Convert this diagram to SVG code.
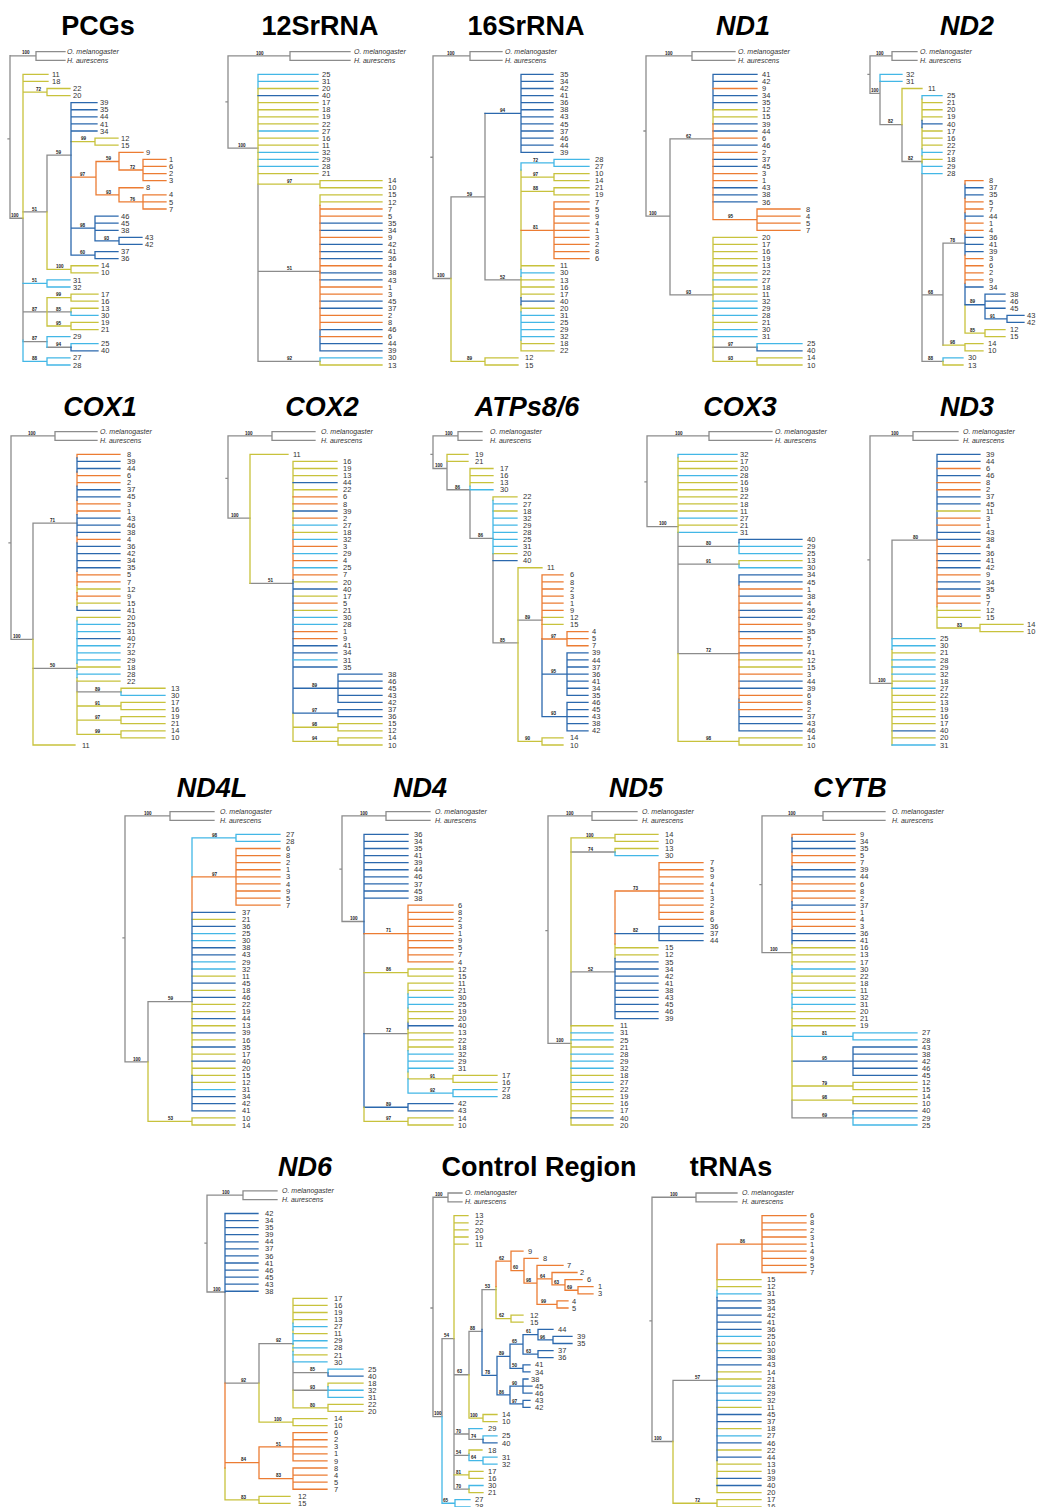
<svg xmlns="http://www.w3.org/2000/svg" width="1038" height="1507" viewBox="0 0 1038 1507">
<style>
path{fill:none;stroke-width:1.3;vector-effect:non-scaling-stroke;stroke-linecap:square}
.g{stroke:#8c8c8c}.y{stroke:#c8c23c}.l{stroke:#43b7e6}.b{stroke:#2b68ad}.o{stroke:#ec7c33}
.lb{font-family:"Liberation Sans",Arial,sans-serif;font-size:7.5px;fill:#333}
.bs{font-family:"Liberation Sans",Arial,sans-serif;font-size:4.6px;font-weight:bold;fill:#222}
.og{font-family:"Liberation Sans",Arial,sans-serif;font-size:7px;font-style:italic;fill:#333}
.t{font-family:"Liberation Sans",Arial,sans-serif;font-size:27px;font-weight:bold;fill:#000;text-anchor:middle}
.i{font-style:italic}
</style>
<rect width="1038" height="1507" fill="#fff"/>
<g id="titles">
<text class="t" x="98" y="35">PCGs</text>
<text class="t" x="320" y="35">12SrRNA</text>
<text class="t" x="526" y="35">16SrRNA</text>
<text class="t i" x="743" y="35">ND1</text>
<text class="t i" x="967" y="35">ND2</text>
<text class="t i" x="100" y="416">COX1</text>
<text class="t i" x="322" y="416">COX2</text>
<text class="t i" x="527" y="416">ATPs8/6</text>
<text class="t i" x="740" y="416">COX3</text>
<text class="t i" x="967" y="416">ND3</text>
<text class="t i" x="212" y="797">ND4L</text>
<text class="t i" x="420" y="797">ND4</text>
<text class="t i" x="636" y="797">ND5</text>
<text class="t i" x="850" y="797">CYTB</text>
<text class="t i" x="305" y="1176">ND6</text>
<text class="t" x="539" y="1176">Control Region</text>
<text class="t" x="731" y="1176">tRNAs</text>
</g>

<g id="tree-pcgs">
<g class="connectors" transform="translate(0,74.3) scale(1,7.09)">
<path class="g" d="M10 -2.62V20.3M8 9.1H10M10 -2.6H36M36 -3.2V-1.95M36 -3.2H65M36 -1.95H65M10 20.3H23M23 20.3V37.5M23 19.4H47M47 11.4V19.4M47 11.4H71M23 33.5H47M23 37.7H47M47 38.5H71M47 33.5H71"/>
<path class="y" d="M23 0V20.3M23 0H48M23 1H48M23 2.5H47M47 2V3M47 2H70M47 3H70M71 9.5H95M95 9V10M95 9H118M95 10H118M47 19.4V27.5M47 27.5H71M71 27V28M71 27H98M71 28H98M47 31.5V35.5M47 31.5H71M71 31V32M71 31H98M71 32H98M71 33V33.5M71 33H98M47 35.5H71M71 35V36M71 35H98M71 36H98"/>
<path class="l" d="M71 33.5V34M71 34H98M23 29.5H47M47 29V30M47 29H70M47 30H70M47 37V38.5M47 37H70M71 38V38.5M71 38H98M23 37.5V40.5M23 40.5H47M47 40V41M47 40H70M47 41H70"/>
<path class="b" d="M71 4V25.5M71 4H97M71 5H97M71 6H97M71 7H97M71 8H97M71 21.7H95M95 20V23.5M95 20H118M95 21H118M95 22H118M95 23.5H119M119 23V24M119 23H142M119 24H142M71 25.5H95M95 25V26M95 25H118M95 26H118M71 38.5V39M71 39H98"/>
<path class="o" d="M71 14.5H96M96 12.3V17M96 12.3H119M119 11V13.5M119 11H143M119 13.5H143M143 12V15M143 12H166M143 13H166M143 14H166M143 15H166M96 17H119M119 16V18M119 16H143M119 18H143M143 17V19M143 17H166M143 18H166M143 19H166"/>
</g>
<text class="og"><tspan x="67" y="54">O. melanogaster</tspan><tspan x="67" y="62.9">H. aurescens</tspan></text>
<text class="lb" y="76.9"><tspan x="52">11</tspan><tspan x="52" dy="7.09">18</tspan><tspan x="73" dy="7.09">22</tspan><tspan x="73" dy="7.09">20</tspan><tspan x="100" dy="7.09">39</tspan><tspan x="100" dy="7.09">35</tspan><tspan x="100" dy="7.09">44</tspan><tspan x="100" dy="7.09">41</tspan><tspan x="100" dy="7.09">34</tspan><tspan x="121" dy="7.09">12</tspan><tspan x="121" dy="7.09">15</tspan><tspan x="146" dy="7.09">9</tspan><tspan x="169" dy="7.09">1</tspan><tspan x="169" dy="7.09">6</tspan><tspan x="169" dy="7.09">2</tspan><tspan x="169" dy="7.09">3</tspan><tspan x="146" dy="7.09">8</tspan><tspan x="169" dy="7.09">4</tspan><tspan x="169" dy="7.09">5</tspan><tspan x="169" dy="7.09">7</tspan><tspan x="121" dy="7.09">46</tspan><tspan x="121" dy="7.09">45</tspan><tspan x="121" dy="7.09">38</tspan><tspan x="145" dy="7.09">43</tspan><tspan x="145" dy="7.09">42</tspan><tspan x="121" dy="7.09">37</tspan><tspan x="121" dy="7.09">36</tspan><tspan x="101" dy="7.09">14</tspan><tspan x="101" dy="7.09">10</tspan><tspan x="73" dy="7.09">31</tspan><tspan x="73" dy="7.09">32</tspan><tspan x="101" dy="7.09">17</tspan><tspan x="101" dy="7.09">16</tspan><tspan x="101" dy="7.09">13</tspan><tspan x="101" dy="7.09">30</tspan><tspan x="101" dy="7.09">19</tspan><tspan x="101" dy="7.09">21</tspan><tspan x="73" dy="7.09">29</tspan><tspan x="101" dy="7.09">25</tspan><tspan x="101" dy="7.09">40</tspan><tspan x="73" dy="7.09">27</tspan><tspan x="73" dy="7.09">28</tspan></text>
<text class="bs"><tspan x="22" y="54.4">100</tspan><tspan x="11" y="216.9">100</tspan><tspan x="36" y="90.7">72</tspan><tspan x="32" y="210.5">51</tspan><tspan x="56" y="153.8">59</tspan><tspan x="81" y="140.4">99</tspan><tspan x="80" y="175.8">97</tspan><tspan x="106" y="160.2">59</tspan><tspan x="130" y="168.7">72</tspan><tspan x="106" y="193.5">93</tspan><tspan x="130" y="200.6">76</tspan><tspan x="80" y="226.9">98</tspan><tspan x="104" y="239.6">93</tspan><tspan x="80" y="253.8">60</tspan><tspan x="56" y="268">100</tspan><tspan x="32" y="282.2">51</tspan><tspan x="56" y="296.3">99</tspan><tspan x="32" y="310.5">87</tspan><tspan x="56" y="310.5">85</tspan><tspan x="56" y="324.7">95</tspan><tspan x="32" y="340.3">87</tspan><tspan x="56" y="346">94</tspan><tspan x="32" y="360.1">88</tspan></text>
</g>

<g id="tree-12srrna">
<g class="connectors" transform="translate(0,74.3) scale(1,7.09)">
<path class="g" d="M228 -2.6V10.4M226 3.9H228M228 -2.6H290M290 -3.2V-1.95M290 -3.2H350M290 -1.95H350M228 10.4H258M258 15.5V40.5M258 27.8H320M258 40.5H320"/>
<path class="l" d="M258 0V2M258 0H318M258 1H318M258 8H318M258 11H318M258 12H318M258 13H318M320 40V40.5M320 40H382"/>
<path class="y" d="M258 2V15.5M258 2H318M258 4H318M258 5H318M258 6H318M258 7H318M258 9H318M258 10H318M258 14H318M258 15.5H320M320 15V16M320 15H382M320 16H382M320 17V18.5M320 17H382M320 18H382M320 40.5V41M320 41H382"/>
<path class="b" d="M258 3H318M320 36V39M320 21H382M320 22H382M320 24H382M320 25H382M320 26H382M320 28H382M320 29H382M320 32H382M320 33H382M320 36H382M320 38H382M320 39H382"/>
<path class="o" d="M320 18.5V36M320 19H382M320 20H382M320 23H382M320 27H382M320 30H382M320 31H382M320 34H382M320 35H382M320 37H382"/>
</g>
<text class="og"><tspan x="354" y="54">O. melanogaster</tspan><tspan x="354" y="62.9">H. aurescens</tspan></text>
<text class="lb" y="76.9"><tspan x="322">25</tspan><tspan x="322" dy="7.09">31</tspan><tspan x="322" dy="7.09">20</tspan><tspan x="322" dy="7.09">40</tspan><tspan x="322" dy="7.09">17</tspan><tspan x="322" dy="7.09">18</tspan><tspan x="322" dy="7.09">19</tspan><tspan x="322" dy="7.09">22</tspan><tspan x="322" dy="7.09">27</tspan><tspan x="322" dy="7.09">16</tspan><tspan x="322" dy="7.09">11</tspan><tspan x="322" dy="7.09">32</tspan><tspan x="322" dy="7.09">29</tspan><tspan x="322" dy="7.09">28</tspan><tspan x="322" dy="7.09">21</tspan><tspan x="388" dy="7.09">14</tspan><tspan x="388" dy="7.09">10</tspan><tspan x="388" dy="7.09">15</tspan><tspan x="388" dy="7.09">12</tspan><tspan x="388" dy="7.09">7</tspan><tspan x="388" dy="7.09">5</tspan><tspan x="388" dy="7.09">35</tspan><tspan x="388" dy="7.09">34</tspan><tspan x="388" dy="7.09">9</tspan><tspan x="388" dy="7.09">42</tspan><tspan x="388" dy="7.09">41</tspan><tspan x="388" dy="7.09">36</tspan><tspan x="388" dy="7.09">4</tspan><tspan x="388" dy="7.09">38</tspan><tspan x="388" dy="7.09">43</tspan><tspan x="388" dy="7.09">1</tspan><tspan x="388" dy="7.09">3</tspan><tspan x="388" dy="7.09">45</tspan><tspan x="388" dy="7.09">37</tspan><tspan x="388" dy="7.09">2</tspan><tspan x="388" dy="7.09">8</tspan><tspan x="388" dy="7.09">46</tspan><tspan x="388" dy="7.09">6</tspan><tspan x="388" dy="7.09">44</tspan><tspan x="388" dy="7.09">39</tspan><tspan x="388" dy="7.09">30</tspan><tspan x="388" dy="7.09">13</tspan></text>
<text class="bs"><tspan x="256" y="54.6">100</tspan><tspan x="238" y="146.7">100</tspan><tspan x="287" y="182.9">97</tspan><tspan x="287" y="270.1">51</tspan><tspan x="287" y="360.1">92</tspan></text>
</g>

<g id="tree-16srrna">
<g class="connectors" transform="translate(0,74.3) scale(1,7.09)">
<path class="g" d="M433 -2.6V28.8M431 11.7H433M433 -2.6H470M470 -3.2V-1.95M470 -3.2H502M470 -1.95H502M433 28.8H451M451 17.3V28.8M451 17.3H485M485 5.5V29M485 29H521"/>
<path class="y" d="M451 28.8V40.5M451 40.5H485M485 40V41M485 40H518M485 41H518M521 13.5V27.5M521 14.5H554M554 14V15M554 14H589M554 15H589M521 16.5H554M554 16V17M554 16H589M554 17H589M521 28.5V31.5M521 32.5V33.5M521 37.5V39M521 27H554M521 29H554M521 30H554M521 31H554M521 33H554M521 38H554M521 39H554"/>
<path class="b" d="M485 5.5H521M521 0V11M521 0H553M521 1H553M521 2H553M521 3H553M521 4H553M521 5H553M521 6H553M521 7H553M521 8H553M521 9H553M521 10H553M521 11H553M521 31.5V32.5M521 32H554"/>
<path class="l" d="M521 12.5V13.5M521 12.5H554M554 12V13M554 12H589M554 13H589M521 27.5V28.5M521 33.5V37.5M521 28H554M521 34H554M521 35H554M521 36H554M521 37H554"/>
<path class="o" d="M521 22H554M554 18V26M554 18H589M554 19H589M554 20H589M554 21H589M554 22H589M554 23H589M554 24H589M554 25H589M554 26H589"/>
</g>
<text class="og"><tspan x="505" y="54">O. melanogaster</tspan><tspan x="505" y="62.9">H. aurescens</tspan></text>
<text class="lb" y="76.9"><tspan x="560">35</tspan><tspan x="560" dy="7.09">34</tspan><tspan x="560" dy="7.09">42</tspan><tspan x="560" dy="7.09">41</tspan><tspan x="560" dy="7.09">36</tspan><tspan x="560" dy="7.09">38</tspan><tspan x="560" dy="7.09">43</tspan><tspan x="560" dy="7.09">45</tspan><tspan x="560" dy="7.09">37</tspan><tspan x="560" dy="7.09">46</tspan><tspan x="560" dy="7.09">44</tspan><tspan x="560" dy="7.09">39</tspan><tspan x="595" dy="7.09">28</tspan><tspan x="595" dy="7.09">27</tspan><tspan x="595" dy="7.09">10</tspan><tspan x="595" dy="7.09">14</tspan><tspan x="595" dy="7.09">21</tspan><tspan x="595" dy="7.09">19</tspan><tspan x="595" dy="7.09">7</tspan><tspan x="595" dy="7.09">5</tspan><tspan x="595" dy="7.09">9</tspan><tspan x="595" dy="7.09">4</tspan><tspan x="595" dy="7.09">1</tspan><tspan x="595" dy="7.09">3</tspan><tspan x="595" dy="7.09">2</tspan><tspan x="595" dy="7.09">8</tspan><tspan x="595" dy="7.09">6</tspan><tspan x="560" dy="7.09">11</tspan><tspan x="560" dy="7.09">30</tspan><tspan x="560" dy="7.09">13</tspan><tspan x="560" dy="7.09">16</tspan><tspan x="560" dy="7.09">17</tspan><tspan x="560" dy="7.09">40</tspan><tspan x="560" dy="7.09">20</tspan><tspan x="560" dy="7.09">31</tspan><tspan x="560" dy="7.09">25</tspan><tspan x="560" dy="7.09">29</tspan><tspan x="560" dy="7.09">32</tspan><tspan x="560" dy="7.09">18</tspan><tspan x="560" dy="7.09">22</tspan><tspan x="525" dy="7.09">12</tspan><tspan x="525" dy="7.09">15</tspan></text>
<text class="bs"><tspan x="447" y="54.6">100</tspan><tspan x="437" y="277.2">100</tspan><tspan x="467" y="195.7">59</tspan><tspan x="500" y="112">94</tspan><tspan x="500" y="278.6">52</tspan><tspan x="533" y="161.6">72</tspan><tspan x="533" y="175.8">97</tspan><tspan x="533" y="190">88</tspan><tspan x="533" y="229">81</tspan><tspan x="467" y="360.1">89</tspan></text>
</g>

<g id="tree-nd1">
<g class="connectors" transform="translate(0,74.3) scale(1,7.09)">
<path class="g" d="M646 -2.6V20M644 8H646M646 -2.6H692M692 -3.2V-1.95M692 -3.2H735M692 -1.95H735M646 20H670M670 9.1V31.1M670 9.1H713M670 31.1H713M713 38.5H757"/>
<path class="b" d="M713 0V5M713 0H757M713 1H757M713 3H757M713 4H757M713 7H757M713 8H757M713 10H757M713 12H757M713 13H757M713 16H757M713 17H757M713 18H757M757 38.5V39M757 39H802"/>
<path class="y" d="M713 5V7M713 5H757M713 6H757M713 23V40.5M713 23H757M713 24H757M713 25H757M713 26H757M713 27H757M713 28H757M713 30H757M713 31H757M713 35H757M713 40.5H757M757 40V41M757 40H802M757 41H802"/>
<path class="o" d="M713 7V20.5M713 2H757M713 9H757M713 11H757M713 14H757M713 15H757M713 20.5H757M757 19V22M757 19H800M757 20H800M757 21H800M757 22H800"/>
<path class="l" d="M713 29H757M713 32H757M713 33H757M713 34H757M713 36H757M713 37H757M757 38V38.5M757 38H802"/>
</g>
<text class="og"><tspan x="738" y="54">O. melanogaster</tspan><tspan x="738" y="62.9">H. aurescens</tspan></text>
<text class="lb" y="76.9"><tspan x="762">41</tspan><tspan x="762" dy="7.09">42</tspan><tspan x="762" dy="7.09">9</tspan><tspan x="762" dy="7.09">34</tspan><tspan x="762" dy="7.09">35</tspan><tspan x="762" dy="7.09">12</tspan><tspan x="762" dy="7.09">15</tspan><tspan x="762" dy="7.09">39</tspan><tspan x="762" dy="7.09">44</tspan><tspan x="762" dy="7.09">6</tspan><tspan x="762" dy="7.09">46</tspan><tspan x="762" dy="7.09">2</tspan><tspan x="762" dy="7.09">37</tspan><tspan x="762" dy="7.09">45</tspan><tspan x="762" dy="7.09">3</tspan><tspan x="762" dy="7.09">1</tspan><tspan x="762" dy="7.09">43</tspan><tspan x="762" dy="7.09">38</tspan><tspan x="762" dy="7.09">36</tspan><tspan x="806" dy="7.09">8</tspan><tspan x="806" dy="7.09">4</tspan><tspan x="806" dy="7.09">5</tspan><tspan x="806" dy="7.09">7</tspan><tspan x="762" dy="7.09">20</tspan><tspan x="762" dy="7.09">17</tspan><tspan x="762" dy="7.09">16</tspan><tspan x="762" dy="7.09">19</tspan><tspan x="762" dy="7.09">13</tspan><tspan x="762" dy="7.09">22</tspan><tspan x="762" dy="7.09">27</tspan><tspan x="762" dy="7.09">18</tspan><tspan x="762" dy="7.09">11</tspan><tspan x="762" dy="7.09">32</tspan><tspan x="762" dy="7.09">29</tspan><tspan x="762" dy="7.09">28</tspan><tspan x="762" dy="7.09">21</tspan><tspan x="762" dy="7.09">30</tspan><tspan x="762" dy="7.09">31</tspan><tspan x="807" dy="7.09">25</tspan><tspan x="807" dy="7.09">40</tspan><tspan x="807" dy="7.09">14</tspan><tspan x="807" dy="7.09">10</tspan></text>
<text class="bs"><tspan x="665" y="54.6">100</tspan><tspan x="649" y="214.8">100</tspan><tspan x="686" y="137.5">62</tspan><tspan x="686" y="293.5">93</tspan><tspan x="728" y="218.3">95</tspan><tspan x="728" y="346">97</tspan><tspan x="728" y="360.1">93</tspan></text>
</g>

<g id="tree-nd2">
<g class="connectors" transform="translate(0,74.3) scale(1,7.09)">
<path class="g" d="M870 -2.6V2.7M868 0H870M870 -2.6H892M892 -3.2V-1.95M892 -3.2H917M892 -1.95H917M870 2.7H880M880 1V7.1M880 7.1H902M902 7.1V12.3M902 12.3H922M922 14V40.5M922 31.1H943M943 23.8V38.2M943 23.8H965M922 40.5H943"/>
<path class="l" d="M880 0V1M880 0H902M880 1H902M922 3V3.5M922 10.5V11.5M922 12.5V14M922 3H942M922 11H942M922 13H942M922 14H942M943 40V40.5M943 40H963"/>
<path class="y" d="M902 2V7.1M902 2H922M922 3.5V6.5M922 7.5V10.5M922 11.5V12.5M922 4H942M922 5H942M922 6H942M922 8H942M922 9H942M922 10H942M922 12H942M965 32.5V36.5M965 36.5H985M985 36V37M985 36H1005M985 37H1005M943 38.2H965M965 38V39M965 38H983M965 39H983M943 40.5V41M943 41H963"/>
<path class="b" d="M922 6.5V7.5M922 7H942M965 15.5V17.5M965 19.5V20.5M965 22.5V25.5M965 29.5V32.5M965 16H983M965 17H983M965 20H983M965 23H983M965 24H983M965 25H983M965 30H983M965 32.5H985M985 31V34.5M985 31H1005M985 32H1005M985 33H1005M985 34.5H1007M1007 34V35M1007 34H1024M1007 35H1024"/>
<path class="o" d="M965 15V15.5M965 17.5V19.5M965 20.5V22.5M965 25.5V29.5M965 15H983M965 18H983M965 19H983M965 21H983M965 22H983M965 26H983M965 27H983M965 28H983M965 29H983"/>
</g>
<text class="og"><tspan x="920" y="54">O. melanogaster</tspan><tspan x="920" y="62.9">H. aurescens</tspan></text>
<text class="lb" y="76.9"><tspan x="906">32</tspan><tspan x="906" dy="7.09">31</tspan><tspan x="928" dy="7.09">11</tspan><tspan x="947" dy="7.09">25</tspan><tspan x="947" dy="7.09">21</tspan><tspan x="947" dy="7.09">20</tspan><tspan x="947" dy="7.09">19</tspan><tspan x="947" dy="7.09">40</tspan><tspan x="947" dy="7.09">17</tspan><tspan x="947" dy="7.09">16</tspan><tspan x="947" dy="7.09">22</tspan><tspan x="947" dy="7.09">27</tspan><tspan x="947" dy="7.09">18</tspan><tspan x="947" dy="7.09">29</tspan><tspan x="947" dy="7.09">28</tspan><tspan x="989" dy="7.09">8</tspan><tspan x="989" dy="7.09">37</tspan><tspan x="989" dy="7.09">35</tspan><tspan x="989" dy="7.09">5</tspan><tspan x="989" dy="7.09">7</tspan><tspan x="989" dy="7.09">44</tspan><tspan x="989" dy="7.09">1</tspan><tspan x="989" dy="7.09">4</tspan><tspan x="989" dy="7.09">36</tspan><tspan x="989" dy="7.09">41</tspan><tspan x="989" dy="7.09">39</tspan><tspan x="989" dy="7.09">3</tspan><tspan x="989" dy="7.09">6</tspan><tspan x="989" dy="7.09">2</tspan><tspan x="989" dy="7.09">9</tspan><tspan x="989" dy="7.09">34</tspan><tspan x="1010" dy="7.09">38</tspan><tspan x="1010" dy="7.09">46</tspan><tspan x="1010" dy="7.09">45</tspan><tspan x="1027" dy="7.09">43</tspan><tspan x="1027" dy="7.09">42</tspan><tspan x="1010" dy="7.09">12</tspan><tspan x="1010" dy="7.09">15</tspan><tspan x="988" dy="7.09">14</tspan><tspan x="988" dy="7.09">10</tspan><tspan x="968" dy="7.09">30</tspan><tspan x="968" dy="7.09">13</tspan></text>
<text class="bs"><tspan x="876" y="54.6">100</tspan><tspan x="871" y="92.1">100</tspan><tspan x="888" y="123.3">82</tspan><tspan x="908" y="160.2">82</tspan><tspan x="928" y="293.5">68</tspan><tspan x="950" y="241.7">78</tspan><tspan x="970" y="303.4">89</tspan><tspan x="990" y="317.6">91</tspan><tspan x="970" y="331.8">85</tspan><tspan x="950" y="343.8">98</tspan><tspan x="928" y="360.1">88</tspan></text>
</g>

<g id="tree-cox1">
<g class="connectors" transform="translate(0,454.3) scale(1,7.09)">
<path class="g" d="M11 -2.6V26.1M9 12.5H11M11 -2.6H55M55 -3.2V-1.95M55 -3.2H97M55 -1.95H97M11 26.1H33M33 9.7V26.1M33 9.7H77M33 30.2H77M77 32V33.5M77 33.5H121"/>
<path class="y" d="M33 26.1V41M33 41H75M77 18.5V19.5M77 20.5V21.5M77 19H120M77 21H120M77 23V23.5M77 29.5V30.5M77 31.5V32M77 33.5V39.5M77 23H120M77 30H120M77 32H120M121 33V33.5M121 33H165M77 35.5H121M121 35V36M121 35H165M121 36H165M77 37.5H121M121 37V38M121 37H165M121 38H165M77 39.5H121M121 39V40M121 39H165M121 40H165"/>
<path class="o" d="M77 0V0.5M77 2.5V4.5M77 6.5V8.5M77 11.5V12.5M77 16.5V18.5M77 19.5V20.5M77 0H120M77 3H120M77 4H120M77 7H120M77 8H120M77 12H120M77 17H120M77 18H120M77 20H120"/>
<path class="b" d="M77 0.5V2.5M77 4.5V6.5M77 8.5V11.5M77 12.5V16.5M77 21.5V22M77 1H120M77 2H120M77 5H120M77 6H120M77 9H120M77 10H120M77 11H120M77 13H120M77 14H120M77 15H120M77 16H120M77 22H120M77 26H120"/>
<path class="l" d="M77 23.5V29.5M77 30.5V31.5M77 24H120M77 25H120M77 27H120M77 28H120M77 29H120M77 31H120M121 33.5V34M121 34H165"/>
</g>
<text class="og"><tspan x="100" y="434">O. melanogaster</tspan><tspan x="100" y="442.9">H. aurescens</tspan></text>
<text class="lb" y="456.9"><tspan x="127">8</tspan><tspan x="127" dy="7.09">39</tspan><tspan x="127" dy="7.09">44</tspan><tspan x="127" dy="7.09">6</tspan><tspan x="127" dy="7.09">2</tspan><tspan x="127" dy="7.09">37</tspan><tspan x="127" dy="7.09">45</tspan><tspan x="127" dy="7.09">3</tspan><tspan x="127" dy="7.09">1</tspan><tspan x="127" dy="7.09">43</tspan><tspan x="127" dy="7.09">46</tspan><tspan x="127" dy="7.09">38</tspan><tspan x="127" dy="7.09">4</tspan><tspan x="127" dy="7.09">36</tspan><tspan x="127" dy="7.09">42</tspan><tspan x="127" dy="7.09">34</tspan><tspan x="127" dy="7.09">35</tspan><tspan x="127" dy="7.09">5</tspan><tspan x="127" dy="7.09">7</tspan><tspan x="127" dy="7.09">12</tspan><tspan x="127" dy="7.09">9</tspan><tspan x="127" dy="7.09">15</tspan><tspan x="127" dy="7.09">41</tspan><tspan x="127" dy="7.09">20</tspan><tspan x="127" dy="7.09">25</tspan><tspan x="127" dy="7.09">31</tspan><tspan x="127" dy="7.09">40</tspan><tspan x="127" dy="7.09">27</tspan><tspan x="127" dy="7.09">32</tspan><tspan x="127" dy="7.09">29</tspan><tspan x="127" dy="7.09">18</tspan><tspan x="127" dy="7.09">28</tspan><tspan x="127" dy="7.09">22</tspan><tspan x="171" dy="7.09">13</tspan><tspan x="171" dy="7.09">30</tspan><tspan x="171" dy="7.09">17</tspan><tspan x="171" dy="7.09">16</tspan><tspan x="171" dy="7.09">19</tspan><tspan x="171" dy="7.09">21</tspan><tspan x="171" dy="7.09">14</tspan><tspan x="171" dy="7.09">10</tspan><tspan x="82" dy="7.09">11</tspan></text>
<text class="bs"><tspan x="28" y="434.6">100</tspan><tspan x="13" y="638">100</tspan><tspan x="50" y="521.8">71</tspan><tspan x="50" y="667.1">50</tspan><tspan x="95" y="690.5">89</tspan><tspan x="95" y="704.7">91</tspan><tspan x="95" y="718.9">97</tspan><tspan x="95" y="733.1">99</tspan></text>
</g>

<g id="tree-cox2">
<g class="connectors" transform="translate(0,454.3) scale(1,7.09)">
<path class="g" d="M228 -2.6V9M226 3.4H228M228 -2.6H272M272 -3.2V-1.95M272 -3.2H315M272 -1.95H315M228 9H250M250 18.2H293"/>
<path class="y" d="M250 0V18.2M250 0H288M293 1V10.7M293 36.5V40.5M293 1H337M293 2H337M293 3H337M293 5H337M293 11H337M293 18H337M293 20H337M293 22H337M293 38.5H338M338 38V39M338 38H382M338 39H382M293 40.5H338M338 40V41M338 40H382M338 41H382"/>
<path class="o" d="M293 10.7V17.7M293 6H337M293 7H337M293 9H337M293 13H337M293 15H337M293 17H337M293 21H337M293 25H337M293 26H337"/>
<path class="b" d="M293 17.7V36.5M293 4H337M293 8H337M293 19H337M293 27H337M293 28H337M293 30H337M293 33H338M338 31V35M338 31H382M338 32H382M338 33H382M338 34H382M338 35H382M293 36.5H338M338 36V37M338 36H382M338 37H382"/>
<path class="l" d="M293 10H337M293 12H337M293 14H337M293 16H337M293 23H337M293 24H337M293 29H337"/>
</g>
<text class="og"><tspan x="321" y="434">O. melanogaster</tspan><tspan x="321" y="442.9">H. aurescens</tspan></text>
<text class="lb" y="456.9"><tspan x="293">11</tspan><tspan x="343" dy="7.09">16</tspan><tspan x="343" dy="7.09">19</tspan><tspan x="343" dy="7.09">13</tspan><tspan x="343" dy="7.09">44</tspan><tspan x="343" dy="7.09">22</tspan><tspan x="343" dy="7.09">6</tspan><tspan x="343" dy="7.09">8</tspan><tspan x="343" dy="7.09">39</tspan><tspan x="343" dy="7.09">2</tspan><tspan x="343" dy="7.09">27</tspan><tspan x="343" dy="7.09">18</tspan><tspan x="343" dy="7.09">32</tspan><tspan x="343" dy="7.09">3</tspan><tspan x="343" dy="7.09">29</tspan><tspan x="343" dy="7.09">4</tspan><tspan x="343" dy="7.09">25</tspan><tspan x="343" dy="7.09">7</tspan><tspan x="343" dy="7.09">20</tspan><tspan x="343" dy="7.09">40</tspan><tspan x="343" dy="7.09">17</tspan><tspan x="343" dy="7.09">5</tspan><tspan x="343" dy="7.09">21</tspan><tspan x="343" dy="7.09">30</tspan><tspan x="343" dy="7.09">28</tspan><tspan x="343" dy="7.09">1</tspan><tspan x="343" dy="7.09">9</tspan><tspan x="343" dy="7.09">41</tspan><tspan x="343" dy="7.09">34</tspan><tspan x="343" dy="7.09">31</tspan><tspan x="343" dy="7.09">35</tspan><tspan x="388" dy="7.09">38</tspan><tspan x="388" dy="7.09">46</tspan><tspan x="388" dy="7.09">45</tspan><tspan x="388" dy="7.09">43</tspan><tspan x="388" dy="7.09">42</tspan><tspan x="388" dy="7.09">37</tspan><tspan x="388" dy="7.09">36</tspan><tspan x="388" dy="7.09">15</tspan><tspan x="388" dy="7.09">12</tspan><tspan x="388" dy="7.09">14</tspan><tspan x="388" dy="7.09">10</tspan></text>
<text class="bs"><tspan x="245" y="434.6">100</tspan><tspan x="231" y="516.8">100</tspan><tspan x="268" y="582">51</tspan><tspan x="312" y="687">89</tspan><tspan x="312" y="711.8">97</tspan><tspan x="312" y="726">98</tspan><tspan x="312" y="740.1">94</tspan></text>
</g>

<g id="tree-atp86">
<g class="connectors" transform="translate(0,454.3) scale(1,7.09)">
<path class="g" d="M433 -2.6V2M431 0H433M433 -2.6H458M458 -3.2V-1.95M458 -3.2H482M458 -1.95H482M433 2H447M447 1V5M447 5H470M470 5V11.85M470 11.85H493M493 14V26.6M493 26.6H518M518 23.4H542"/>
<path class="y" d="M447 0V1M447 0H468M447 1H468M470 2V4.5M470 2H493M470 3H493M470 4H493M493 6V6.5M493 6H517M493 8H517M493 14H517M518 16V40.5M518 16H542M518 40.5H542M542 40V41M542 40H563M542 41H563M542 23H563M542 24H563"/>
<path class="l" d="M470 4.5V5M470 5H493M493 6.5V14M493 7H517M493 9H517M493 10H517M493 11H517M493 12H517M493 13H517"/>
<path class="b" d="M493 15H517M542 26V37M542 31H567M567 28V34M567 28H588M567 29H588M567 30H588M567 31H588M567 32H588M567 33H588M567 34H588M542 37H567M567 35V39M567 35H588M567 36H588M567 37H588M567 38H588M567 39H588"/>
<path class="o" d="M542 17V26M542 17H563M542 18H563M542 19H563M542 20H563M542 21H563M542 22H563M542 26.05H567M567 25V27M567 25H588M567 26H588M567 27H588"/>
</g>
<text class="og"><tspan x="490" y="434">O. melanogaster</tspan><tspan x="490" y="442.9">H. aurescens</tspan></text>
<text class="lb" y="456.9"><tspan x="475">19</tspan><tspan x="475" dy="7.09">21</tspan><tspan x="500" dy="7.09">17</tspan><tspan x="500" dy="7.09">16</tspan><tspan x="500" dy="7.09">13</tspan><tspan x="500" dy="7.09">30</tspan><tspan x="523" dy="7.09">22</tspan><tspan x="523" dy="7.09">27</tspan><tspan x="523" dy="7.09">18</tspan><tspan x="523" dy="7.09">32</tspan><tspan x="523" dy="7.09">29</tspan><tspan x="523" dy="7.09">28</tspan><tspan x="523" dy="7.09">25</tspan><tspan x="523" dy="7.09">31</tspan><tspan x="523" dy="7.09">20</tspan><tspan x="523" dy="7.09">40</tspan><tspan x="547" dy="7.09">11</tspan><tspan x="570" dy="7.09">6</tspan><tspan x="570" dy="7.09">8</tspan><tspan x="570" dy="7.09">2</tspan><tspan x="570" dy="7.09">3</tspan><tspan x="570" dy="7.09">1</tspan><tspan x="570" dy="7.09">9</tspan><tspan x="570" dy="7.09">12</tspan><tspan x="570" dy="7.09">15</tspan><tspan x="592" dy="7.09">4</tspan><tspan x="592" dy="7.09">5</tspan><tspan x="592" dy="7.09">7</tspan><tspan x="592" dy="7.09">39</tspan><tspan x="592" dy="7.09">44</tspan><tspan x="592" dy="7.09">37</tspan><tspan x="592" dy="7.09">36</tspan><tspan x="592" dy="7.09">41</tspan><tspan x="592" dy="7.09">34</tspan><tspan x="592" dy="7.09">35</tspan><tspan x="592" dy="7.09">46</tspan><tspan x="592" dy="7.09">45</tspan><tspan x="592" dy="7.09">43</tspan><tspan x="592" dy="7.09">38</tspan><tspan x="592" dy="7.09">42</tspan><tspan x="570" dy="7.09">14</tspan><tspan x="570" dy="7.09">10</tspan></text>
<text class="bs"><tspan x="445" y="434.6">100</tspan><tspan x="435" y="467.2">100</tspan><tspan x="455" y="488.5">86</tspan><tspan x="478" y="537">86</tspan><tspan x="500" y="641.6">85</tspan><tspan x="525" y="618.9">89</tspan><tspan x="551" y="637.7">97</tspan><tspan x="551" y="672.8">95</tspan><tspan x="551" y="715.3">93</tspan><tspan x="525" y="740.1">90</tspan></text>
</g>

<g id="tree-cox3">
<g class="connectors" transform="translate(0,454.3) scale(1,7.09)">
<path class="g" d="M647 -2.6V10.2M645 3.9H647M647 -2.6H709M709 -3.2V-1.95M709 -3.2H772M709 -1.95H772M647 10.2H678M678 11V28.1M678 13H739M678 15.5H739M678 28.1H739"/>
<path class="l" d="M678 0V0.5M678 0H737M678 3H737M678 9H737M678 11H737M739 12.5V14M739 13H802M739 14H802M739 15.5V16M739 16H802"/>
<path class="y" d="M678 0.5V11M678 1H737M678 2H737M678 4H737M678 5H737M678 6H737M678 7H737M678 8H737M678 10H737M678 28.1V40.5M678 40.5H739M739 40V41M739 40H802M739 41H802M739 15V15.5M739 15H802M739 29H802M739 30H802"/>
<path class="b" d="M739 12V12.5M739 12H802M739 17V18.5M739 34.5V39M739 17H802M739 18H802M739 20H802M739 22H802M739 23H802M739 25H802M739 28H802M739 32H802M739 33H802M739 37H802M739 38H802M739 39H802"/>
<path class="o" d="M739 18.5V34.5M739 19H802M739 21H802M739 24H802M739 26H802M739 27H802M739 31H802M739 34H802M739 35H802M739 36H802"/>
</g>
<text class="og"><tspan x="775" y="434">O. melanogaster</tspan><tspan x="775" y="442.9">H. aurescens</tspan></text>
<text class="lb" y="456.9"><tspan x="740">32</tspan><tspan x="740" dy="7.09">17</tspan><tspan x="740" dy="7.09">20</tspan><tspan x="740" dy="7.09">28</tspan><tspan x="740" dy="7.09">16</tspan><tspan x="740" dy="7.09">19</tspan><tspan x="740" dy="7.09">22</tspan><tspan x="740" dy="7.09">18</tspan><tspan x="740" dy="7.09">11</tspan><tspan x="740" dy="7.09">27</tspan><tspan x="740" dy="7.09">21</tspan><tspan x="740" dy="7.09">31</tspan><tspan x="807" dy="7.09">40</tspan><tspan x="807" dy="7.09">29</tspan><tspan x="807" dy="7.09">25</tspan><tspan x="807" dy="7.09">13</tspan><tspan x="807" dy="7.09">30</tspan><tspan x="807" dy="7.09">34</tspan><tspan x="807" dy="7.09">45</tspan><tspan x="807" dy="7.09">1</tspan><tspan x="807" dy="7.09">38</tspan><tspan x="807" dy="7.09">4</tspan><tspan x="807" dy="7.09">36</tspan><tspan x="807" dy="7.09">42</tspan><tspan x="807" dy="7.09">9</tspan><tspan x="807" dy="7.09">35</tspan><tspan x="807" dy="7.09">5</tspan><tspan x="807" dy="7.09">7</tspan><tspan x="807" dy="7.09">41</tspan><tspan x="807" dy="7.09">12</tspan><tspan x="807" dy="7.09">15</tspan><tspan x="807" dy="7.09">3</tspan><tspan x="807" dy="7.09">44</tspan><tspan x="807" dy="7.09">39</tspan><tspan x="807" dy="7.09">6</tspan><tspan x="807" dy="7.09">8</tspan><tspan x="807" dy="7.09">2</tspan><tspan x="807" dy="7.09">37</tspan><tspan x="807" dy="7.09">43</tspan><tspan x="807" dy="7.09">46</tspan><tspan x="807" dy="7.09">14</tspan><tspan x="807" dy="7.09">10</tspan></text>
<text class="bs"><tspan x="675" y="434.6">100</tspan><tspan x="659" y="525.3">100</tspan><tspan x="706" y="545.2">80</tspan><tspan x="706" y="562.9">91</tspan><tspan x="706" y="652.2">72</tspan><tspan x="706" y="740.1">98</tspan></text>
</g>

<g id="tree-nd3">
<g class="connectors" transform="translate(0,454.3) scale(1,7.09)">
<path class="g" d="M870 -2.6V32.3M868 14.9H870M870 -2.6H913M913 -3.2V-1.95M913 -3.2H958M913 -1.95H958M870 32.3H892M892 12.1V26M892 12.1H937"/>
<path class="b" d="M937 0V12M937 0H980M937 1H980M937 3H980M937 6H980M937 7H980M937 11H980M937 12H980M937 14H980M937 15H980M937 16H980M937 18H980M937 19H980M892 39H935"/>
<path class="o" d="M937 12V21.5M937 2H980M937 4H980M937 5H980M937 9H980M937 10H980M937 13H980M937 17H980M937 20H980M937 21H980"/>
<path class="y" d="M937 21.5V24.5M937 8H980M937 22H980M937 23H980M937 24.5H980M980 24V25M980 24H1023M980 25H1023M892 27.5V41M892 28H935M892 32H935M892 34H935M892 35H935M892 36H935M892 37H935M892 38H935M892 40H935"/>
<path class="l" d="M892 26V27.5M892 26H935M892 27H935M892 29H935M892 30H935M892 31H935M892 33H935M892 41H935"/>
</g>
<text class="og"><tspan x="963" y="434">O. melanogaster</tspan><tspan x="963" y="442.9">H. aurescens</tspan></text>
<text class="lb" y="456.9"><tspan x="986">39</tspan><tspan x="986" dy="7.09">44</tspan><tspan x="986" dy="7.09">6</tspan><tspan x="986" dy="7.09">46</tspan><tspan x="986" dy="7.09">8</tspan><tspan x="986" dy="7.09">2</tspan><tspan x="986" dy="7.09">37</tspan><tspan x="986" dy="7.09">45</tspan><tspan x="986" dy="7.09">11</tspan><tspan x="986" dy="7.09">3</tspan><tspan x="986" dy="7.09">1</tspan><tspan x="986" dy="7.09">43</tspan><tspan x="986" dy="7.09">38</tspan><tspan x="986" dy="7.09">4</tspan><tspan x="986" dy="7.09">36</tspan><tspan x="986" dy="7.09">41</tspan><tspan x="986" dy="7.09">42</tspan><tspan x="986" dy="7.09">9</tspan><tspan x="986" dy="7.09">34</tspan><tspan x="986" dy="7.09">35</tspan><tspan x="986" dy="7.09">5</tspan><tspan x="986" dy="7.09">7</tspan><tspan x="986" dy="7.09">12</tspan><tspan x="986" dy="7.09">15</tspan><tspan x="1027" dy="7.09">14</tspan><tspan x="1027" dy="7.09">10</tspan><tspan x="940" dy="7.09">25</tspan><tspan x="940" dy="7.09">30</tspan><tspan x="940" dy="7.09">21</tspan><tspan x="940" dy="7.09">28</tspan><tspan x="940" dy="7.09">29</tspan><tspan x="940" dy="7.09">32</tspan><tspan x="940" dy="7.09">18</tspan><tspan x="940" dy="7.09">27</tspan><tspan x="940" dy="7.09">22</tspan><tspan x="940" dy="7.09">13</tspan><tspan x="940" dy="7.09">19</tspan><tspan x="940" dy="7.09">16</tspan><tspan x="940" dy="7.09">17</tspan><tspan x="940" dy="7.09">40</tspan><tspan x="940" dy="7.09">20</tspan><tspan x="940" dy="7.09">31</tspan></text>
<text class="bs"><tspan x="891" y="434.6">100</tspan><tspan x="878" y="682">100</tspan><tspan x="913" y="538.8">80</tspan><tspan x="957" y="626.7">83</tspan></text>
</g>

<g id="tree-nd4l">
<g class="connectors" transform="translate(0,834.3) scale(1,7.09)">
<path class="g" d="M125 -2.6V32.1M123 14.6H125M125 -2.6H170M170 -3.2V-1.95M170 -3.2H214M170 -1.95H214M125 32.1H148M148 23.6V32.1M148 23.6H192"/>
<path class="y" d="M148 32.1V40.5M148 40.5H192M192 40V41M192 40H235M192 41H235M192 23.6V34M192 12H235M192 20H235M192 22H235M192 24H235M192 25H235M192 27H235M192 29H235M192 31H235M192 33H235M192 34H235M192 35H235"/>
<path class="l" d="M192 0.5V6M192 0.5H236M236 0V1M236 0H280M236 1H280M192 14H235M192 15H235M192 18H235M192 19H235M192 36H235"/>
<path class="o" d="M192 6V11M192 6H236M236 2V10M236 2H280M236 3H280M236 4H280M236 5H280M236 6H280M236 7H280M236 8H280M236 9H280M236 10H280"/>
<path class="b" d="M192 11V23.6M192 34V39M192 11H235M192 13H235M192 16H235M192 17H235M192 21H235M192 23H235M192 26H235M192 28H235M192 30H235M192 32H235M192 37H235M192 38H235M192 39H235"/>
</g>
<text class="og"><tspan x="220" y="814">O. melanogaster</tspan><tspan x="220" y="822.9">H. aurescens</tspan></text>
<text class="lb" y="836.9"><tspan x="286">27</tspan><tspan x="286" dy="7.09">28</tspan><tspan x="286" dy="7.09">6</tspan><tspan x="286" dy="7.09">8</tspan><tspan x="286" dy="7.09">2</tspan><tspan x="286" dy="7.09">1</tspan><tspan x="286" dy="7.09">3</tspan><tspan x="286" dy="7.09">4</tspan><tspan x="286" dy="7.09">9</tspan><tspan x="286" dy="7.09">5</tspan><tspan x="286" dy="7.09">7</tspan><tspan x="242" dy="7.09">37</tspan><tspan x="242" dy="7.09">21</tspan><tspan x="242" dy="7.09">36</tspan><tspan x="242" dy="7.09">25</tspan><tspan x="242" dy="7.09">30</tspan><tspan x="242" dy="7.09">38</tspan><tspan x="242" dy="7.09">43</tspan><tspan x="242" dy="7.09">29</tspan><tspan x="242" dy="7.09">32</tspan><tspan x="242" dy="7.09">11</tspan><tspan x="242" dy="7.09">45</tspan><tspan x="242" dy="7.09">18</tspan><tspan x="242" dy="7.09">46</tspan><tspan x="242" dy="7.09">22</tspan><tspan x="242" dy="7.09">19</tspan><tspan x="242" dy="7.09">44</tspan><tspan x="242" dy="7.09">13</tspan><tspan x="242" dy="7.09">39</tspan><tspan x="242" dy="7.09">16</tspan><tspan x="242" dy="7.09">35</tspan><tspan x="242" dy="7.09">17</tspan><tspan x="242" dy="7.09">40</tspan><tspan x="242" dy="7.09">20</tspan><tspan x="242" dy="7.09">15</tspan><tspan x="242" dy="7.09">12</tspan><tspan x="242" dy="7.09">31</tspan><tspan x="242" dy="7.09">34</tspan><tspan x="242" dy="7.09">42</tspan><tspan x="242" dy="7.09">41</tspan><tspan x="242" dy="7.09">10</tspan><tspan x="242" dy="7.09">14</tspan></text>
<text class="bs"><tspan x="144" y="814.6">100</tspan><tspan x="133" y="1060.6">100</tspan><tspan x="168" y="1000.3">59</tspan><tspan x="212" y="836.5">98</tspan><tspan x="212" y="875.5">97</tspan><tspan x="168" y="1120.1">53</tspan></text>
</g>

<g id="tree-nd4">
<g class="connectors" transform="translate(0,834.3) scale(1,7.09)">
<path class="g" d="M342 -2.6V12.3M340 4.9H342M342 -2.6H386M386 -3.2V-1.95M386 -3.2H430M386 -1.95H430M342 12.3H364M364 14V28.1M364 28.1H408"/>
<path class="b" d="M364 0V14M364 0H408M364 1H408M364 2H408M364 3H408M364 4H408M364 5H408M364 6H408M364 7H408M364 8H408M364 9H408M364 28.1V38.5M364 38.5H408M408 38V39M408 38H453M408 39H453M408 26.5V27.5M408 27H453"/>
<path class="o" d="M364 14H408M408 10V18M408 10H453M408 11H453M408 12H453M408 13H453M408 14H453M408 15H453M408 16H453M408 17H453M408 18H453"/>
<path class="y" d="M364 19.5H408M408 19V20M408 19H453M408 20H453M408 21V22.5M408 24.5V26.5M408 27.5V30.5M408 33.5V34.5M408 21H453M408 22H453M408 25H453M408 26H453M408 28H453M408 29H453M408 30H453M408 34.5H453M453 34V35M453 34H497M453 35H497M364 38.5V40.5M364 40.5H408M408 40V41M408 40H453M408 41H453"/>
<path class="l" d="M408 22.5V24.5M408 30.5V33.5M408 34.5V36.5M408 23H453M408 24H453M408 31H453M408 32H453M408 33H453M408 36.5H453M453 36V37M453 36H497M453 37H497"/>
</g>
<text class="og"><tspan x="435" y="814">O. melanogaster</tspan><tspan x="435" y="822.9">H. aurescens</tspan></text>
<text class="lb" y="836.9"><tspan x="414">36</tspan><tspan x="414" dy="7.09">34</tspan><tspan x="414" dy="7.09">35</tspan><tspan x="414" dy="7.09">41</tspan><tspan x="414" dy="7.09">39</tspan><tspan x="414" dy="7.09">44</tspan><tspan x="414" dy="7.09">46</tspan><tspan x="414" dy="7.09">37</tspan><tspan x="414" dy="7.09">45</tspan><tspan x="414" dy="7.09">38</tspan><tspan x="458" dy="7.09">6</tspan><tspan x="458" dy="7.09">8</tspan><tspan x="458" dy="7.09">2</tspan><tspan x="458" dy="7.09">3</tspan><tspan x="458" dy="7.09">1</tspan><tspan x="458" dy="7.09">9</tspan><tspan x="458" dy="7.09">5</tspan><tspan x="458" dy="7.09">7</tspan><tspan x="458" dy="7.09">4</tspan><tspan x="458" dy="7.09">12</tspan><tspan x="458" dy="7.09">15</tspan><tspan x="458" dy="7.09">11</tspan><tspan x="458" dy="7.09">21</tspan><tspan x="458" dy="7.09">30</tspan><tspan x="458" dy="7.09">25</tspan><tspan x="458" dy="7.09">19</tspan><tspan x="458" dy="7.09">20</tspan><tspan x="458" dy="7.09">40</tspan><tspan x="458" dy="7.09">13</tspan><tspan x="458" dy="7.09">22</tspan><tspan x="458" dy="7.09">18</tspan><tspan x="458" dy="7.09">32</tspan><tspan x="458" dy="7.09">29</tspan><tspan x="458" dy="7.09">31</tspan><tspan x="502" dy="7.09">17</tspan><tspan x="502" dy="7.09">16</tspan><tspan x="502" dy="7.09">27</tspan><tspan x="502" dy="7.09">28</tspan><tspan x="458" dy="7.09">42</tspan><tspan x="458" dy="7.09">43</tspan><tspan x="458" dy="7.09">14</tspan><tspan x="458" dy="7.09">10</tspan></text>
<text class="bs"><tspan x="360" y="814.6">100</tspan><tspan x="350" y="920.2">100</tspan><tspan x="386" y="932.3">71</tspan><tspan x="386" y="971.3">86</tspan><tspan x="386" y="1032.2">72</tspan><tspan x="430" y="1077.6">91</tspan><tspan x="430" y="1091.8">92</tspan><tspan x="386" y="1106">89</tspan><tspan x="386" y="1120.1">97</tspan></text>
</g>

<g id="tree-nd5">
<g class="connectors" transform="translate(0,834.3) scale(1,7.09)">
<path class="g" d="M548 -2.6V29.5M546 13.6H548M548 -2.6H592M592 -3.2V-1.95M592 -3.2H637M592 -1.95H637M548 29.5H571M571 19.4V27M571 2.5H615M571 19.4H615"/>
<path class="y" d="M571 0.5V19.4M571 0.5H615M615 0V1M615 0H658M615 1H658M615 2V2.5M615 2H658M615 15.5V17.5M615 16H658M615 17H658M571 27V41M571 27H613M571 30H613M571 34H613M571 36H613M571 37H613M571 38H613M571 39H613M571 41H613"/>
<path class="l" d="M615 2.5V3M615 3H658M571 28H613M571 29H613M571 31H613M571 32H613M571 33H613M571 35H613"/>
<path class="o" d="M615 8V15.5M615 8H659M659 4V12M659 4H703M659 5H703M659 6H703M659 7H703M659 8H703M659 9H703M659 10H703M659 11H703M659 12H703"/>
<path class="b" d="M615 14H659M659 13V15M659 13H703M659 14H703M659 15H703M615 17.5V26M615 18H658M615 19H658M615 20H658M615 21H658M615 22H658M615 23H658M615 24H658M615 25H658M615 26H658M571 40H613"/>
</g>
<text class="og"><tspan x="642" y="814">O. melanogaster</tspan><tspan x="642" y="822.9">H. aurescens</tspan></text>
<text class="lb" y="836.9"><tspan x="665">14</tspan><tspan x="665" dy="7.09">10</tspan><tspan x="665" dy="7.09">13</tspan><tspan x="665" dy="7.09">30</tspan><tspan x="710" dy="7.09">7</tspan><tspan x="710" dy="7.09">5</tspan><tspan x="710" dy="7.09">9</tspan><tspan x="710" dy="7.09">4</tspan><tspan x="710" dy="7.09">1</tspan><tspan x="710" dy="7.09">3</tspan><tspan x="710" dy="7.09">2</tspan><tspan x="710" dy="7.09">8</tspan><tspan x="710" dy="7.09">6</tspan><tspan x="710" dy="7.09">36</tspan><tspan x="710" dy="7.09">37</tspan><tspan x="710" dy="7.09">44</tspan><tspan x="665" dy="7.09">15</tspan><tspan x="665" dy="7.09">12</tspan><tspan x="665" dy="7.09">35</tspan><tspan x="665" dy="7.09">34</tspan><tspan x="665" dy="7.09">42</tspan><tspan x="665" dy="7.09">41</tspan><tspan x="665" dy="7.09">38</tspan><tspan x="665" dy="7.09">43</tspan><tspan x="665" dy="7.09">45</tspan><tspan x="665" dy="7.09">46</tspan><tspan x="665" dy="7.09">39</tspan><tspan x="620" dy="7.09">11</tspan><tspan x="620" dy="7.09">31</tspan><tspan x="620" dy="7.09">25</tspan><tspan x="620" dy="7.09">21</tspan><tspan x="620" dy="7.09">28</tspan><tspan x="620" dy="7.09">29</tspan><tspan x="620" dy="7.09">32</tspan><tspan x="620" dy="7.09">18</tspan><tspan x="620" dy="7.09">27</tspan><tspan x="620" dy="7.09">22</tspan><tspan x="620" dy="7.09">19</tspan><tspan x="620" dy="7.09">16</tspan><tspan x="620" dy="7.09">17</tspan><tspan x="620" dy="7.09">40</tspan><tspan x="620" dy="7.09">20</tspan></text>
<text class="bs"><tspan x="566" y="814.6">100</tspan><tspan x="556" y="1042.2">100</tspan><tspan x="586" y="836.5">100</tspan><tspan x="588" y="850.7">74</tspan><tspan x="588" y="970.5">52</tspan><tspan x="633" y="889.7">73</tspan><tspan x="633" y="932.3">82</tspan></text>
</g>

<g id="tree-cytb">
<g class="connectors" transform="translate(0,834.3) scale(1,7.09)">
<path class="g" d="M762 -2.6V16.7M760 7.1H762M762 -2.6H823M823 -3.2V-1.95M823 -3.2H885M823 -1.95H885M762 16.7H792M792 37.5V40M792 40H853"/>
<path class="o" d="M792 0V0.5M792 2.5V4.5M792 6.5V9.5M792 10.5V13.5M792 0H855M792 3H855M792 4H855M792 7H855M792 8H855M792 9H855M792 11H855M792 12H855M792 13H855"/>
<path class="b" d="M792 0.5V2.5M792 4.5V6.5M792 9.5V10.5M792 13.5V15.5M792 1H855M792 2H855M792 5H855M792 6H855M792 10H855M792 14H855M792 15H855M792 32H853M853 30V34M853 30H917M853 31H917M853 32H917M853 33H917M853 34H917M853 39V39.5M853 39H917"/>
<path class="y" d="M792 15.5V18.5M792 19.5V22.5M792 24.5V27.5M792 28.5V37.5M792 16H855M792 17H855M792 18H855M792 20H855M792 21H855M792 22H855M792 25H855M792 26H855M792 27H855M792 35.5H853M853 35V36M853 35H917M853 36H917M792 37.5H853M853 37V38M853 37H917M853 38H917"/>
<path class="l" d="M792 18.5V19.5M792 22.5V24.5M792 27.5V28.5M792 19H855M792 23H855M792 24H855M792 28.5H853M853 28V29M853 28H917M853 29H917M853 39.5V41M853 40H917M853 41H917"/>
</g>
<text class="og"><tspan x="892" y="814">O. melanogaster</tspan><tspan x="892" y="822.9">H. aurescens</tspan></text>
<text class="lb" y="836.9"><tspan x="860">9</tspan><tspan x="860" dy="7.09">34</tspan><tspan x="860" dy="7.09">35</tspan><tspan x="860" dy="7.09">5</tspan><tspan x="860" dy="7.09">7</tspan><tspan x="860" dy="7.09">39</tspan><tspan x="860" dy="7.09">44</tspan><tspan x="860" dy="7.09">6</tspan><tspan x="860" dy="7.09">8</tspan><tspan x="860" dy="7.09">2</tspan><tspan x="860" dy="7.09">37</tspan><tspan x="860" dy="7.09">1</tspan><tspan x="860" dy="7.09">4</tspan><tspan x="860" dy="7.09">3</tspan><tspan x="860" dy="7.09">36</tspan><tspan x="860" dy="7.09">41</tspan><tspan x="860" dy="7.09">16</tspan><tspan x="860" dy="7.09">13</tspan><tspan x="860" dy="7.09">17</tspan><tspan x="860" dy="7.09">30</tspan><tspan x="860" dy="7.09">22</tspan><tspan x="860" dy="7.09">18</tspan><tspan x="860" dy="7.09">11</tspan><tspan x="860" dy="7.09">32</tspan><tspan x="860" dy="7.09">31</tspan><tspan x="860" dy="7.09">20</tspan><tspan x="860" dy="7.09">21</tspan><tspan x="860" dy="7.09">19</tspan><tspan x="922" dy="7.09">27</tspan><tspan x="922" dy="7.09">28</tspan><tspan x="922" dy="7.09">43</tspan><tspan x="922" dy="7.09">38</tspan><tspan x="922" dy="7.09">42</tspan><tspan x="922" dy="7.09">46</tspan><tspan x="922" dy="7.09">45</tspan><tspan x="922" dy="7.09">12</tspan><tspan x="922" dy="7.09">15</tspan><tspan x="922" dy="7.09">14</tspan><tspan x="922" dy="7.09">10</tspan><tspan x="922" dy="7.09">40</tspan><tspan x="922" dy="7.09">29</tspan><tspan x="922" dy="7.09">25</tspan></text>
<text class="bs"><tspan x="788" y="814.6">100</tspan><tspan x="770" y="951.4">100</tspan><tspan x="822" y="1035.1">81</tspan><tspan x="822" y="1059.9">95</tspan><tspan x="822" y="1084.7">79</tspan><tspan x="822" y="1098.9">98</tspan><tspan x="822" y="1116.6">69</tspan></text>
</g>

<g id="tree-nd6">
<g class="connectors" transform="translate(0,1213.5) scale(1,7.07)">
<path class="g" d="M207 -2.6V11.1M205 4.2H207M207 -2.6H243M243 -3.2V-1.95M243 -3.2H277M243 -1.95H277M207 11.1H225M225 11.1V24M225 24H259M259 18.4V24M259 18.4H293M293 21V25M293 22.5H328M293 25H328"/>
<path class="b" d="M225 0V11.1M225 0H258M225 1H258M225 2H258M225 3H258M225 4H258M225 5H258M225 6H258M225 7H258M225 8H258M225 9H258M225 10H258M225 11H258M328 22.5V23M328 23H363"/>
<path class="y" d="M293 12V15.5M293 16.5V17M293 18.5V19.5M293 12H327M293 13H327M293 14H327M293 15H327M293 17H327M293 20H327M328 24V24.5M328 24H363M293 25V27.5M293 27.5H328M328 27V28M328 27H363M328 28H363M259 24V29.5M259 29.5H293M293 29V30M293 29H327M293 30H327M225 36V40.5M225 40.5H259M259 40V41M259 40H290M259 41H290"/>
<path class="l" d="M293 15.5V16.5M293 17V18.5M293 19.5V21M293 16H327M293 18H327M293 19H327M293 21H327M328 22V22.5M328 22H363M328 24.5V26M328 25H363M328 26H363"/>
<path class="o" d="M225 24V36M225 35.25H259M259 33V37.5M259 33H293M293 31V35M293 31H327M293 32H327M293 33H327M293 34H327M293 35H327M259 37.5H293M293 36V39M293 36H327M293 37H327M293 38H327M293 39H327"/>
</g>
<text class="og"><tspan x="282" y="1193.3">O. melanogaster</tspan><tspan x="282" y="1202.1">H. aurescens</tspan></text>
<text class="lb" y="1216.1"><tspan x="265">42</tspan><tspan x="265" dy="7.07">34</tspan><tspan x="265" dy="7.07">35</tspan><tspan x="265" dy="7.07">39</tspan><tspan x="265" dy="7.07">44</tspan><tspan x="265" dy="7.07">37</tspan><tspan x="265" dy="7.07">36</tspan><tspan x="265" dy="7.07">41</tspan><tspan x="265" dy="7.07">46</tspan><tspan x="265" dy="7.07">45</tspan><tspan x="265" dy="7.07">43</tspan><tspan x="265" dy="7.07">38</tspan><tspan x="334" dy="7.07">17</tspan><tspan x="334" dy="7.07">16</tspan><tspan x="334" dy="7.07">19</tspan><tspan x="334" dy="7.07">13</tspan><tspan x="334" dy="7.07">27</tspan><tspan x="334" dy="7.07">11</tspan><tspan x="334" dy="7.07">29</tspan><tspan x="334" dy="7.07">28</tspan><tspan x="334" dy="7.07">21</tspan><tspan x="334" dy="7.07">30</tspan><tspan x="368" dy="7.07">25</tspan><tspan x="368" dy="7.07">40</tspan><tspan x="368" dy="7.07">18</tspan><tspan x="368" dy="7.07">32</tspan><tspan x="368" dy="7.07">31</tspan><tspan x="368" dy="7.07">22</tspan><tspan x="368" dy="7.07">20</tspan><tspan x="334" dy="7.07">14</tspan><tspan x="334" dy="7.07">10</tspan><tspan x="334" dy="7.07">6</tspan><tspan x="334" dy="7.07">2</tspan><tspan x="334" dy="7.07">3</tspan><tspan x="334" dy="7.07">1</tspan><tspan x="334" dy="7.07">9</tspan><tspan x="334" dy="7.07">8</tspan><tspan x="334" dy="7.07">4</tspan><tspan x="334" dy="7.07">5</tspan><tspan x="334" dy="7.07">7</tspan><tspan x="298" dy="7.07">12</tspan><tspan x="298" dy="7.07">15</tspan></text>
<text class="bs"><tspan x="222" y="1193.8">100</tspan><tspan x="213" y="1290.7">100</tspan><tspan x="241" y="1381.9">92</tspan><tspan x="276" y="1342.3">92</tspan><tspan x="310" y="1371.3">85</tspan><tspan x="310" y="1389">93</tspan><tspan x="310" y="1406.6">80</tspan><tspan x="274" y="1420.8">100</tspan><tspan x="241" y="1461.4">84</tspan><tspan x="276" y="1445.5">51</tspan><tspan x="276" y="1477.3">83</tspan><tspan x="241" y="1498.5">83</tspan></text>
</g>

<g id="tree-control-region">
<g class="connectors" transform="translate(0,1215.7) scale(1,7.1)">
<path class="g" d="M433 -2.6V28.3M431 13H433M433 -2.6H448M448 -3.2V-1.95M448 -3.2H462M448 -1.95H462M433 28.3H442M442 17.3V28.3M442 17.3H454M454 17.3V38.5M454 22.4H469M469 16.3V22.4M469 16.3H482M482 10.4V16M482 10.4H496M454 30.75H469M469 30V31.5M469 31.5H483M454 33.75H469M454 38.5H469"/>
<path class="l" d="M442 28.3V40.5M442 40.5H455M455 40V41M455 40H470M455 41H470M469 30H482M483 31V31.5M483 31H497M469 33.5V34.5M469 34.5H483M483 34V35M483 34H497M483 35H497M469 38V38.5M469 38H483"/>
<path class="y" d="M454 0V17.3M454 0H468M454 1H468M454 2H468M454 3H468M454 4H468M469 22.4V28.5M469 28.5H483M483 28V29M483 28H497M483 29H497M496 10V14.5M496 14.5H511M511 14V15M511 14H523M511 15H523M469 33V33.5M469 33H482M454 36.5H469M469 36V37M469 36H483M469 37H483M469 38.5V39M469 39H483"/>
<path class="o" d="M496 6.4V10M496 6.4H511M511 5V7.75M511 5H523M511 7.75H524M524 6V9.5M524 6H538M524 9.5H537M537 7V12.5M537 7H563M537 8.9H552M552 8V9.75M552 8H577M552 9.75H565M565 9V10.5M565 9H582M565 10.5H578M578 10V11M578 10H593M578 11H593M537 12.5H557M557 12V13M557 12H568M557 13H568"/>
<path class="b" d="M482 16V22.5M482 22.5H497M497 19.8V25.25M497 19.8H510M510 18.1V21.5M510 18.1H523M523 16.75V19.5M523 16.75H538M538 16V17.5M538 16H553M538 17.5H553M553 17V18M553 17H572M553 18H572M523 19.5H538M538 19V20M538 19H553M538 20H553M510 21.5H523M523 21V22M523 21H530M523 22H530M497 25.25H510M510 24V26.5M510 24H523M523 23V25M523 23H528M523 24H532M523 25H532M510 26.5H523M523 26V27M523 26H530M523 27H530M483 31.5V32M483 32H497"/>
</g>
<text class="og"><tspan x="465" y="1195.4">O. melanogaster</tspan><tspan x="465" y="1204.3">H. aurescens</tspan></text>
<text class="lb" y="1218.3"><tspan x="475">13</tspan><tspan x="475" dy="7.1">22</tspan><tspan x="475" dy="7.1">20</tspan><tspan x="475" dy="7.1">19</tspan><tspan x="475" dy="7.1">11</tspan><tspan x="528" dy="7.1">9</tspan><tspan x="543" dy="7.1">8</tspan><tspan x="567" dy="7.1">7</tspan><tspan x="580" dy="7.1">2</tspan><tspan x="587" dy="7.1">6</tspan><tspan x="598" dy="7.1">1</tspan><tspan x="598" dy="7.1">3</tspan><tspan x="572" dy="7.1">4</tspan><tspan x="572" dy="7.1">5</tspan><tspan x="530" dy="7.1">12</tspan><tspan x="530" dy="7.1">15</tspan><tspan x="558" dy="7.1">44</tspan><tspan x="577" dy="7.1">39</tspan><tspan x="577" dy="7.1">35</tspan><tspan x="558" dy="7.1">37</tspan><tspan x="558" dy="7.1">36</tspan><tspan x="535" dy="7.1">41</tspan><tspan x="535" dy="7.1">34</tspan><tspan x="531" dy="7.1">38</tspan><tspan x="535" dy="7.1">45</tspan><tspan x="535" dy="7.1">46</tspan><tspan x="535" dy="7.1">43</tspan><tspan x="535" dy="7.1">42</tspan><tspan x="502" dy="7.1">14</tspan><tspan x="502" dy="7.1">10</tspan><tspan x="488" dy="7.1">29</tspan><tspan x="502" dy="7.1">25</tspan><tspan x="502" dy="7.1">40</tspan><tspan x="488" dy="7.1">18</tspan><tspan x="502" dy="7.1">31</tspan><tspan x="502" dy="7.1">32</tspan><tspan x="488" dy="7.1">17</tspan><tspan x="488" dy="7.1">16</tspan><tspan x="488" dy="7.1">30</tspan><tspan x="488" dy="7.1">21</tspan><tspan x="475" dy="7.1">27</tspan><tspan x="475" dy="7.1">28</tspan></text>
<text class="bs"><tspan x="435" y="1195.9">100</tspan><tspan x="434" y="1415.3">100</tspan><tspan x="444" y="1337.2">54</tspan><tspan x="443" y="1502">65</tspan><tspan x="457" y="1373.4">63</tspan><tspan x="470" y="1416.8">100</tspan><tspan x="470" y="1330.1">88</tspan><tspan x="485" y="1288.2">53</tspan><tspan x="499" y="1259.8">62</tspan><tspan x="513" y="1269.4">60</tspan><tspan x="526" y="1281.9">98</tspan><tspan x="540" y="1277.6">64</tspan><tspan x="554" y="1283.6">63</tspan><tspan x="567" y="1289">69</tspan><tspan x="541" y="1303.2">99</tspan><tspan x="499" y="1317.4">62</tspan><tspan x="485" y="1374.2">78</tspan><tspan x="499" y="1355">89</tspan><tspan x="512" y="1342.9">65</tspan><tspan x="526" y="1333.3">61</tspan><tspan x="540" y="1338.7">96</tspan><tspan x="526" y="1352.9">63</tspan><tspan x="512" y="1367.1">50</tspan><tspan x="499" y="1393.7">86</tspan><tspan x="512" y="1384.8">90</tspan><tspan x="512" y="1402.6">97</tspan><tspan x="456" y="1432.7">70</tspan><tspan x="471" y="1438.1">74</tspan><tspan x="456" y="1454">54</tspan><tspan x="471" y="1459.4">64</tspan><tspan x="456" y="1473.6">81</tspan><tspan x="456" y="1487.8">70</tspan></text>
</g>

<g id="tree-trnas">
<g class="connectors" transform="translate(0,1215.7) scale(1,7.1)">
<path class="g" d="M652 -2.6V31.8M650 14.8H652M652 -2.6H696M696 -3.2V-1.95M696 -3.2H737M696 -1.95H737M652 31.8H673M673 23.2V31.8M673 23.2H717"/>
<path class="o" d="M717 4V9M717 4H762M762 0V8M762 0H806M762 1H806M762 2H806M762 3H806M762 4H806M762 5H806M762 6H806M762 7H806M762 8H806"/>
<path class="y" d="M717 9V10.5M717 34.5V39M717 9H761M717 10H761M717 18H761M717 22H761M717 23H761M717 27H761M717 30H761M717 33H761M717 35H761M717 36H761M717 39H761M673 31.8V40.5M673 40.5H717M717 40V41M717 40H761M717 41H761"/>
<path class="l" d="M717 10.5V11.5M717 11H761M717 17H761M717 19H761M717 24H761M717 25H761M717 26H761M717 31H761"/>
<path class="b" d="M717 11.5V34.5M717 12H761M717 13H761M717 14H761M717 15H761M717 16H761M717 20H761M717 21H761M717 28H761M717 29H761M717 32H761M717 34H761M717 37H761M717 38H761"/>
</g>
<text class="og"><tspan x="742" y="1195.4">O. melanogaster</tspan><tspan x="742" y="1204.3">H. aurescens</tspan></text>
<text class="lb" y="1218.3"><tspan x="810">6</tspan><tspan x="810" dy="7.1">8</tspan><tspan x="810" dy="7.1">2</tspan><tspan x="810" dy="7.1">3</tspan><tspan x="810" dy="7.1">1</tspan><tspan x="810" dy="7.1">4</tspan><tspan x="810" dy="7.1">9</tspan><tspan x="810" dy="7.1">5</tspan><tspan x="810" dy="7.1">7</tspan><tspan x="767" dy="7.1">15</tspan><tspan x="767" dy="7.1">12</tspan><tspan x="767" dy="7.1">31</tspan><tspan x="767" dy="7.1">35</tspan><tspan x="767" dy="7.1">34</tspan><tspan x="767" dy="7.1">42</tspan><tspan x="767" dy="7.1">41</tspan><tspan x="767" dy="7.1">36</tspan><tspan x="767" dy="7.1">25</tspan><tspan x="767" dy="7.1">10</tspan><tspan x="767" dy="7.1">30</tspan><tspan x="767" dy="7.1">38</tspan><tspan x="767" dy="7.1">43</tspan><tspan x="767" dy="7.1">14</tspan><tspan x="767" dy="7.1">21</tspan><tspan x="767" dy="7.1">28</tspan><tspan x="767" dy="7.1">29</tspan><tspan x="767" dy="7.1">32</tspan><tspan x="767" dy="7.1">11</tspan><tspan x="767" dy="7.1">45</tspan><tspan x="767" dy="7.1">37</tspan><tspan x="767" dy="7.1">18</tspan><tspan x="767" dy="7.1">27</tspan><tspan x="767" dy="7.1">46</tspan><tspan x="767" dy="7.1">22</tspan><tspan x="767" dy="7.1">44</tspan><tspan x="767" dy="7.1">13</tspan><tspan x="767" dy="7.1">19</tspan><tspan x="767" dy="7.1">39</tspan><tspan x="767" dy="7.1">40</tspan><tspan x="767" dy="7.1">20</tspan><tspan x="767" dy="7.1">17</tspan><tspan x="767" dy="7.1">16</tspan></text>
<text class="bs"><tspan x="670" y="1195.9">100</tspan><tspan x="654" y="1440.2">100</tspan><tspan x="695" y="1379.1">57</tspan><tspan x="740" y="1242.8">86</tspan><tspan x="695" y="1502">72</tspan></text>
</g>
</svg>
